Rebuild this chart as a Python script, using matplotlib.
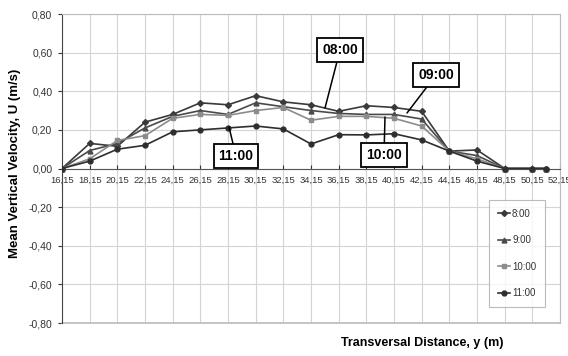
import matplotlib.pyplot as plt
import numpy as np

plt.rcParams['font.family'] = ['Liberation Sans', 'DejaVu Sans']

# transversal positions (m)
distance = [16.15, 18.15, 20.15, 22.15, 24.15, 26.15, 28.15, 30.15, 32.15, 34.15,
            36.15, 38.15, 40.15, 42.15, 44.15, 46.15, 48.15, 50.15, 51.15]

u_0800 = [0.00, 0.13, 0.115, 0.24, 0.28, 0.34, 0.33, 0.377, 0.345, 0.33,
          0.296, 0.325, 0.316, 0.296, 0.09, 0.096, 0.00, 0.00, 0.00]
u_0900 = [0.00, 0.093, 0.13, 0.21, 0.27, 0.30, 0.28, 0.34, 0.32, 0.30,
          0.285, 0.28, 0.28, 0.256, 0.09, 0.067, 0.00, 0.00, 0.00]
u_1000 = [0.00, 0.05, 0.145, 0.17, 0.26, 0.28, 0.275, 0.30, 0.316, 0.25,
          0.27, 0.27, 0.26, 0.22, 0.09, 0.05, 0.00, 0.00, 0.00]
u_1100 = [0.00, 0.038, 0.10, 0.12, 0.19, 0.20, 0.21, 0.22, 0.205, 0.127,
          0.175, 0.174, 0.18, 0.148, 0.09, 0.038, 0.00, 0.00, 0.00]

series_names = ['8:00', '9:00', '10:00', '11:00']
xticks = [16.15, 18.15, 20.15, 22.15, 24.15, 26.15, 28.15, 30.15, 32.15, 34.15,
          36.15, 38.15, 40.15, 42.15, 44.15, 46.15, 48.15, 50.15, 52.15]
yticks = [-0.8, -0.6, -0.4, -0.2, 0.0, 0.2, 0.4, 0.6, 0.8]

def comma(v):
    return ('%.2f' % v).replace('.', ',')

W, H = 568, 356
fig = plt.figure(figsize=(W / 100, H / 100), dpi=100)
ax = fig.add_axes([62 / W, 1 - 323 / H, (560 - 62) / W, (323 - 14) / H])

styles = [
    dict(color='#3a3a3a', marker='D', ms=3),
    dict(color='#4a4a4a', marker='^', ms=3.5),
    dict(color='#8c8c8c', marker='s', ms=3.5),
    dict(color='#2e2e2e', marker='o', ms=3.5),
]
for name, vals, st in zip(series_names, [u_0800, u_0900, u_1000, u_1100], styles):
    ax.plot(distance, vals, lw=1.2, label=name, zorder=3, **st)

# move the x axis to y = 0 first (this rebuilds the ticks)
ax.spines['bottom'].set_position(('data', 0))
ax.spines['bottom'].set_color('#555555')
ax.spines['left'].set_color('#444444')
ax.spines['top'].set_color('#bbbbbb')
ax.spines['right'].set_color('#bbbbbb')
ax.axhline(-0.8, color='#bbbbbb', lw=1.2, clip_on=False)

ax.set_xlim(16.15, 52.15)
ax.set_ylim(-0.8, 0.8)
ax.set_xticks(xticks)
ax.set_xticklabels([comma(v) for v in xticks])
ax.set_yticks(yticks)
ax.set_yticklabels([comma(v) for v in yticks])
ax.tick_params(axis='x', length=3, pad=5, colors='#333333', direction='in', labelsize=6.8)
ax.tick_params(axis='y', length=3, pad=4, colors='#333333', labelsize=7.5)
ax.grid(True, color='#d4d4d4', lw=0.8)

fig.text(15 / W, 1 - 163 / H, 'Mean Vertical Velocity, U (m/s)', rotation=90,
         ha='center', va='center', fontsize=9.5, fontweight='bold')
fig.text(422 / W, 1 - 343 / H, 'Transversal Distance, y (m)',
         ha='center', va='center', fontsize=9, fontweight='bold')

leg = ax.legend(loc='lower right', bbox_to_anchor=(545 / W, 1 - 307 / H),
                bbox_transform=fig.transFigure, fontsize=7, frameon=True,
                fancybox=False, edgecolor='#aaaaaa', labelspacing=1.7,
                handlelength=1.3, handletextpad=0.2, borderpad=0.9,
                borderaxespad=0)
leg.get_frame().set_linewidth(0.8)
for t in leg.get_texts():
    t.set_color('#333333')

box = dict(boxstyle='square,pad=0.35', fc='white', ec='black', lw=1.3)
arrow = dict(arrowstyle='-', color='black', lw=1.1, shrinkA=0, shrinkB=0)
notes = [('08:00', (340, 50), (325, 108)),
         ('09:00', (436, 75), (407, 113)),
         ('10:00', (384, 155), (385, 117)),
         ('11:00', (236, 156), (229, 127))]
for txt, (tx, ty), (px, py) in notes:
    ax.annotate(txt, xy=(px / W, 1 - py / H), xycoords='figure fraction',
                xytext=(tx / W, 1 - ty / H), textcoords='figure fraction',
                ha='center', va='center', fontsize=10, fontweight='bold',
                bbox=box, arrowprops=arrow, zorder=5)

fig.savefig('out.png', dpi=100)
